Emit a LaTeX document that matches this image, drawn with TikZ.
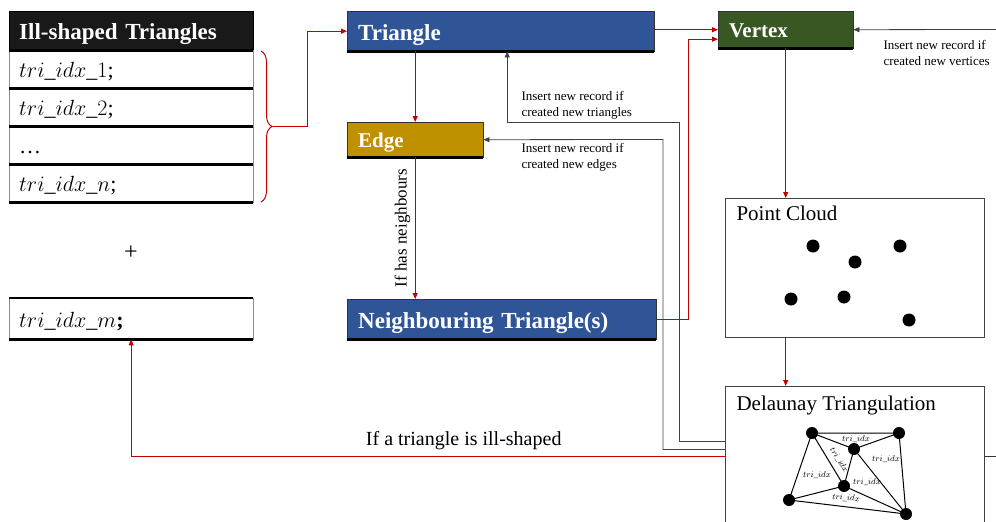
\RequirePackage{fix-cm}
\documentclass[tikz,border=0pt]{standalone}
\usepackage{fontspec}
\setmainfont{Liberation Serif}
\usetikzlibrary{arrows.meta,decorations.pathreplacing}

\definecolor{tblue}{HTML}{2F5597}
\definecolor{tgold}{HTML}{BF9000}
\definecolor{tgreen}{HTML}{385723}
\definecolor{fred}{HTML}{C00000}

\tikzset{
  block/.style={draw=black!80, anchor=north west, inner xsep=11pt, inner ysep=0pt,
    text height=18pt, text depth=0pt,
    align=left, text=white, font=\bfseries\fontsize{23}{26}\selectfont},
  row/.style={draw=black!45, fill=white, anchor=north west, inner xsep=10pt, inner ysep=0pt,
    text height=17pt, text depth=0pt,
    text width=224pt, minimum height=38pt, align=left, font=\fontsize{22}{26}\selectfont},
  flow/.style={fred, line width=1pt, -{Triangle[length=6pt,width=5pt]}},
  rec/.style={black!75, line width=0.8pt, -{Triangle[length=6pt,width=5pt]}},
  note/.style={anchor=west, align=left, font=\fontsize{13}{16}\selectfont},
  panel/.style={draw=black!75, line width=0.8pt, anchor=north west, inner sep=0pt,
    minimum width=259pt},
  tix/.style={font=\fontsize{8.5}{10}\selectfont, inner sep=0pt}
}

\begin{document}
\begin{tikzpicture}[x=1pt,y=-1pt]
  \useasboundingbox (0,0) rectangle (996,522);

  % 病态三角形列表
  \node[row, fill=black!90, draw=black, text=white, minimum height=39pt, text height=18pt,
        font=\bfseries\fontsize{23}{26}\selectfont] (hdr) at (9,11) {Ill-shaped Triangles};
  \foreach \n/\y/\t in {r1/50/{$tri\_idx\_1$;}, r2/88/{$tri\_idx\_2$;},
                        r3/126/{\dots}, r4/164/{$tri\_idx\_n$;}} {
    \node[row] (\n) at (9,\y) {\t};
  }
  \node[font=\fontsize{24}{28}\selectfont] (plus) at (131,253) {+};
  \node[row, minimum height=41pt] (rm) at (9,298) {$tri\_idx\_m$\textbf{;}};

  % 数据表
  \node[block, fill=tblue, text width=285pt, minimum height=40pt] (tri) at (347,11) {Triangle};
  \node[block, fill=tgold, text width=114pt, minimum height=35pt, text height=16pt,
        font=\bfseries\fontsize{21}{24}\selectfont] (edge) at (347,122) {Edge};
  \node[block, fill=tblue, text width=287pt, minimum height=40pt] (nbr) at (347,299) {Neighbouring Triangle(s)};
  \node[block, fill=tgreen, text width=113pt, minimum height=37pt, text height=16pt,
        font=\bfseries\fontsize{21}{24}\selectfont] (vtx) at (718,11) {Vertex};

  % 底边加粗
  \foreach \n in {hdr,r1,r2,r3,r4,rm,tri,edge,nbr,vtx}
    \draw[line width=2.5pt] (\n.south west) -- (\n.south east);
  \draw[line width=2pt] (rm.north west) -- (rm.north east);

  % 点云与三角剖分
  \node[panel, minimum height=139pt] (pc) at (725,198) {};
  \node[panel, minimum height=140pt] (dt) at (725,386) {};
  \node[anchor=base west, font=\fontsize{21}{24}\selectfont] (pct) at (733,220) {Point Cloud};
  \node[anchor=base west, font=\fontsize{21}{24}\selectfont] (dtt) at (733,410) {Delaunay Triangulation};

  \foreach \p in {(813,246),(855,262),(900,246),(791,299),(844,297),(909,320)}
    \fill \p circle (6.5pt);

  \coordinate (pA) at (812,433);
  \coordinate (pB) at (899,433);
  \coordinate (pC) at (854,449);
  \coordinate (pD) at (844,486);
  \coordinate (pE) at (789,500);
  \coordinate (pF) at (906,514);
  \draw[line width=1pt] (pA) -- (pB) -- (pF) -- (pE) -- cycle;
  \draw[line width=1pt] (pA) -- (pC) -- (pB) (pA) -- (pD) -- (pC) -- (pF)
                        (pE) -- (pD) -- (pF);
  \foreach \p in {pA,pB,pC,pD,pE,pF}
    \fill (\p) circle (6pt);
  \foreach \x/\y/\r in {856/439/0, 839/460/-58, 886/459/0, 817/475/0, 867/482/0, 846/498/-4}
    \node[tix, rotate=\r] at (\x,\y) {$tri\_idx$};

  % 括号和红色流程线
  \draw[fred, line width=1pt, decorate, decoration={brace, amplitude=11pt}] (261,51) -- (261,202);
  \coordinate (btip) at (273,126.5);
  \draw[flow] (btip) -- ++(34,0) |- (tri.west);
  \draw[flow] (edge.north |- tri.south) -- (edge.north);
  \draw[flow] (edge.south) -- node[rotate=90, above=1pt, text=black, font=\fontsize{17}{20}\selectfont] (nbl)
    {If has neighbours} (edge.south |- nbr.north);
  \draw[flow] (tri.east |- vtx.west) -- (vtx.west);
  \draw[flow] (nbr.east) -- ++(32,0) |- ([yshift=-9.5pt]vtx.west);
  \draw[flow] (vtx.south) -- (vtx.south |- pc.north);
  \draw[flow] (vtx.south |- pc.south) -- (vtx.south |- dt.north);
  \draw[flow] (dt.west) -| node[pos=0.22, above=3pt, text=black, font=\fontsize{20}{24}\selectfont] (ill)
    {If a triangle is ill-shaped} (rm.south);

  % 插入新记录
  \draw[rec] ([yshift=15pt]dt.west) -| (679,122) -| ([xshift=6.5pt]tri.south);
  \draw[rec] ([yshift=7pt]dt.west) -| (663,139.5) -- (edge.east);
  \coordinate (vin) at (996,29.5);
  \draw[rec] (vin) -- (vtx.east);
  \draw[black!80, line width=0.8pt] (dt.east) -- ++(12,0);

  \node[note] (ntri) at (518,105) {Insert new record if\\created new triangles};
  \node[note] (nedge) at (518,157) {Insert new record if\\created new edges};
  \node[note] (nvtx) at (880,53) {Insert new record if\\created new vertices};
\end{tikzpicture}
\end{document}
